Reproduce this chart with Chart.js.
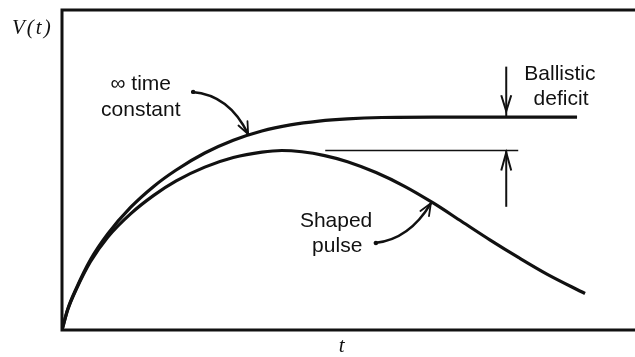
<!DOCTYPE html>
<html>
<head>
<meta charset="utf-8">
<script src="https://cdn.jsdelivr.net/npm/chart.js@4"></script>
<style>
  html, body { margin: 0; padding: 0; background: #fff; }
  canvas { display: block; }
</style>
</head>
<body>
<canvas id="pulse" width="635" height="357"></canvas>
<script>
// values (t in 0..100, V in 0..100)
const infT = [0, 1, 2.5, 5, 8, 12, 16, 20, 25, 30, 35, 40, 45, 50, 56, 65, 90.2];
const infV = [0, 6.5, 13, 22, 30, 38.3, 44.8, 50, 55.3, 59.3, 62.2, 64.1, 65.3, 66, 66.4, 66.5, 66.5];

const pulseT = [0, 1, 2.5, 5, 8, 12, 16, 20, 25, 30, 35, 38.5, 42, 46, 50, 55, 60, 65, 70, 75, 80, 85, 91.6];
const pulseV = [0, 6.3, 12.7, 21.4, 29, 36.3, 42, 46.6, 50.9, 53.9, 55.6, 56.1, 55.7, 54.5, 52.6, 49.2, 44.9, 39.7, 33.9, 28.1, 22.6, 17.4, 11.4];

// peak reference line and ballistic deficit arrows
const refT = [46.1, 79.9];
const refV = 56.1;
const deficitT = 77.8;
const topArrowV = [82.3, 66.5];
const lowArrowV = [38.5, 56.1];

// text labels [text, t, V]
const labels = [
    ["\u221E time", 13.8, 75],
    ["constant", 13.8, 66.9],
    ["Ballistic", 87.2, 78.1],
    ["deficit", 87.4, 70.3],
    ["Shaped", 48, 32.2],
    ["pulse", 48.2, 24.4]
];

// curved pointer arrows: start, control, tip
const pointers = [
    [[22.8, 74.4], [29.3, 73.5], [32.6, 61.2]],
    [[54.8, 27.2], [60.8, 28.3], [64.6, 39.6]]
];

const toPts = (xs, ys) => xs.map((x, i) => ({ x: x, y: ys[i] }));
const INK = '#111';

function lineSet(data, width) {
    return {
        data: data,
        showLine: true,
        borderColor: INK,
        borderWidth: width,
        pointRadius: 0,
        cubicInterpolationMode: 'monotone',
        fill: false
    };
}

function arrowHead(ctx, tx, ty, fx, fy, len, half) {
    const a = Math.atan2(ty - fy, tx - fx);
    ctx.beginPath();
    ctx.moveTo(tx - len * Math.cos(a) + half * Math.sin(a), ty - len * Math.sin(a) - half * Math.cos(a));
    ctx.lineTo(tx, ty);
    ctx.lineTo(tx - len * Math.cos(a) - half * Math.sin(a), ty - len * Math.sin(a) + half * Math.cos(a));
    ctx.stroke();
}

const decor = {
    id: 'decor',
    afterDatasetsDraw(chart) {
        const ctx = chart.ctx;
        const xs = chart.scales.x, ys = chart.scales.y;
        const area = chart.chartArea;
        const px = v => xs.getPixelForValue(v);
        const py = v => ys.getPixelForValue(v);
        ctx.save();
        ctx.strokeStyle = INK;
        ctx.fillStyle = INK;
        ctx.lineCap = 'butt';

        // frame
        ctx.lineWidth = 3;
        ctx.beginPath();
        ctx.moveTo(chart.width, area.top);
        ctx.lineTo(area.left, area.top);
        ctx.lineTo(area.left, area.bottom);
        ctx.lineTo(chart.width, area.bottom);
        ctx.stroke();

        // deficit arrowheads
        ctx.lineWidth = 2;
        arrowHead(ctx, px(deficitT), py(topArrowV[1]) - 6, px(deficitT), py(topArrowV[0]), 16, 5);
        arrowHead(ctx, px(deficitT), py(lowArrowV[1]) + 2, px(deficitT), py(lowArrowV[0]), 18, 5);

        // curved pointers
        ctx.lineWidth = 2.5;
        ctx.lineCap = 'round';
        pointers.forEach(p => {
            const s = [px(p[0][0]), py(p[0][1])];
            const c = [px(p[1][0]), py(p[1][1])];
            const t = [px(p[2][0]), py(p[2][1])];
            ctx.beginPath();
            ctx.moveTo(s[0], s[1]);
            ctx.quadraticCurveTo(c[0], c[1], t[0], t[1]);
            ctx.stroke();
            ctx.beginPath();
            ctx.arc(s[0] + 1, s[1], 2.2, 0, Math.PI * 2);
            ctx.fill();
            ctx.lineWidth = 1.8;
            arrowHead(ctx, t[0], t[1], c[0], c[1], 12, 5);
            ctx.lineWidth = 2.5;
        });

        // labels
        ctx.font = '21px "Liberation Sans", Arial, sans-serif';
        ctx.textAlign = 'center';
        ctx.textBaseline = 'alphabetic';
        labels.forEach(l => ctx.fillText(l[0], px(l[1]), py(l[2])));

        // axis titles
        ctx.font = 'italic 21px "Liberation Serif", "DejaVu Serif", serif';
        ctx.letterSpacing = '2px';
        ctx.textAlign = 'left';
        ctx.fillText('V(t)', 12, 34);
        ctx.letterSpacing = '0px';
        ctx.textAlign = 'center';
        ctx.fillText('t', px(49), area.bottom + 22);
        ctx.restore();
    }
};

new Chart(document.getElementById('pulse'), {
    type: 'scatter',
    data: {
        datasets: [
            lineSet(toPts(infT, infV), 3.2),
            lineSet(toPts(pulseT, pulseV), 3.2),
            lineSet(toPts(refT, [refV, refV]), 1.6),
            lineSet(toPts([deficitT, deficitT], topArrowV), 2),
            lineSet(toPts([deficitT, deficitT], lowArrowV), 2)
        ]
    },
    options: {
        responsive: false,
        animation: false,
        layout: { padding: { left: 62, right: 2, top: 10, bottom: 27 } },
        plugins: { legend: { display: false }, tooltip: { enabled: false } },
        scales: {
            x: { type: 'linear', min: 0, max: 100, display: false },
            y: { min: 0, max: 100, display: false }
        }
    },
    plugins: [decor]
});
</script>
</body>
</html>
